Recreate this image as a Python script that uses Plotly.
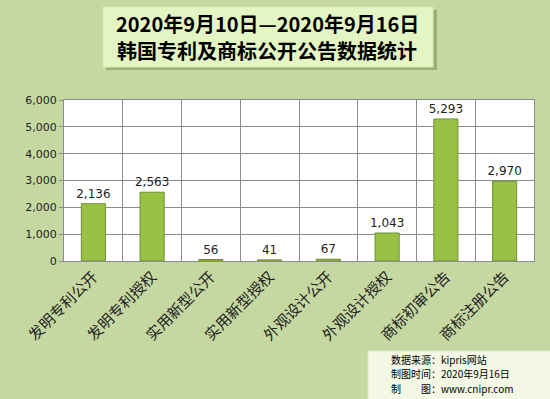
import plotly.graph_objects as go

categories = ["发明专利公开", "发明专利授权", "实用新型公开", "实用新型授权",
              "外观设计公开", "外观设计授权", "商标初审公告", "商标注册公告"]
values = [2136, 2563, 56, 41, 67, 1043, 5293, 2970]
y_ticks = [0, 1000, 2000, 3000, 4000, 5000, 6000]
title_lines = ["2020年9月10日—2020年9月16日", "韩国专利及商标公开公告数据统计"]
note_lines = ["数据来源：kipris网站", "制图时间：2020年9月16日", "制　　图：www.cnipr.com"]

bg = "#C6D8A1"
fig = go.Figure()
fig.add_trace(go.Bar(
    x=categories, y=values, width=0.41,
    marker=dict(color="#99C244", line=dict(color="#6F9030", width=1)),
    text=[f"{v:,}" for v in values], textposition="outside", constraintext="none",
    textfont=dict(family="Verdana, DejaVu Sans", size=12, color="#222"),
    cliponaxis=False,
))

fig.update_layout(
    width=550, height=399,
    paper_bgcolor=bg, plot_bgcolor="white",
    margin=dict(l=64, r=16, t=100, b=138),
    showlegend=False,
    xaxis=dict(tickson="boundaries", showgrid=True, gridcolor="#8C8C8C", gridwidth=1,
               tickangle=-45, ticks="", showline=True, linecolor="#8C8C8C", mirror=True,
               automargin=False,
               tickfont=dict(family="Noto Sans CJK SC", size=15, color="#222")),
    yaxis=dict(range=[0, 6000], tickvals=y_ticks, tickformat=",", showgrid=True,
               gridcolor="#8C8C8C", gridwidth=1, showline=True, linecolor="#8C8C8C", mirror=True,
               ticks="outside", ticklen=4, tickcolor="#8C8C8C", zeroline=False, automargin=False,
               tickfont=dict(family="Verdana, DejaVu Sans", size=11, color="#222")),
)

# Title box with shadow
fig.add_shape(type="rect", xref="paper", yref="paper", layer="below",
              x0=(106 - 64) / 470, x1=(437 - 64) / 470,
              y0=(261 - 70) / 161, y1=(261 - 10) / 161,
              fillcolor="#9AAE7A", line=dict(width=0))
fig.add_shape(type="rect", xref="paper", yref="paper",
              x0=(103 - 64) / 470, x1=(433 - 64) / 470,
              y0=(261 - 67) / 161, y1=(261 - 7) / 161,
              fillcolor="#E4F5C4", line=dict(color="#D8EBB5", width=1))
for i, line in enumerate(title_lines):
    fig.add_annotation(xref="paper", yref="paper", x=(267 - 64) / 470,
                       y=(261 - (23 + 27 * i)) / 161, text=f"<b>{line}</b>", showarrow=False,
                       font=dict(family="Noto Sans CJK SC", size=20, color="black"),
                       xanchor="center", yanchor="middle")

# Note box
fig.add_shape(type="rect", xref="paper", yref="paper",
              x0=(368 - 64) / 470, x1=(551 - 64) / 470,
              y0=(261 - 400) / 161, y1=(261 - 351) / 161,
              fillcolor="#F2F8E4", line=dict(color="#E0ECC8", width=1))
for i, line in enumerate(note_lines):
    fig.add_annotation(xref="paper", yref="paper", x=(389 - 64) / 470,
                       y=(261 - (359 + 14.5 * i)) / 161, text=line, showarrow=False,
                       font=dict(family="Noto Sans CJK SC", size=10, color="black"),
                       xanchor="left", yanchor="middle")

fig.write_html("out.html", config={"displayModeBar": False},
               post_script="document.body.style.margin='0';document.body.style.overflow='hidden';")
